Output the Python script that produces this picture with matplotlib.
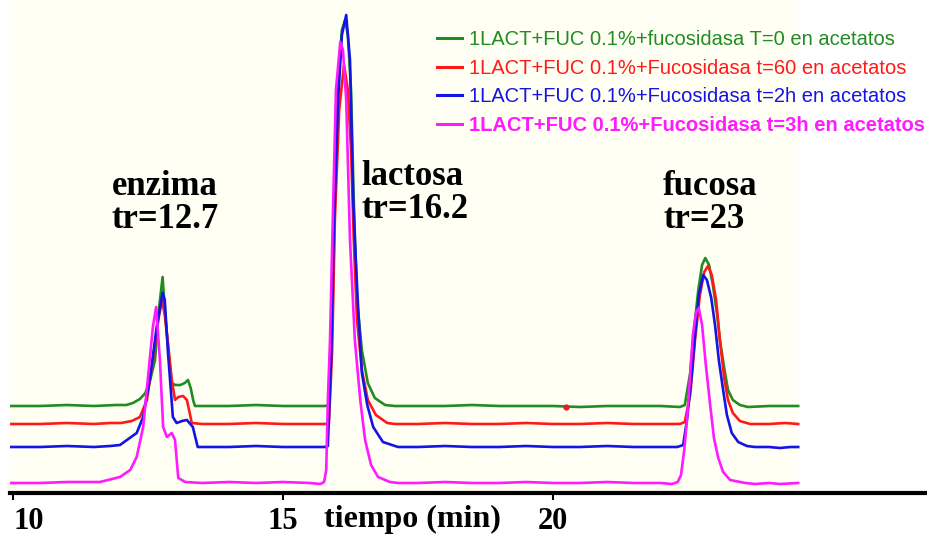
import matplotlib
matplotlib.use("Agg")
import matplotlib.pyplot as plt

# chromatogram traces: time (min), signal (arb. units)
green_t = [9.94, 10.5, 11.0, 11.5, 11.9, 12.1, 12.22, 12.35, 12.45, 12.54, 12.63, 12.70, 12.77, 12.81,
           12.88, 12.94, 13.0, 13.1, 13.18, 13.24, 13.29, 13.34, 13.37, 13.5, 14.0, 14.5, 15.0, 15.5,
           15.78, 15.85, 15.91, 15.96, 16.02, 16.09, 16.15, 16.20, 16.26, 16.31, 16.37, 16.46, 16.57,
           16.70, 16.89, 17.07, 17.5, 18.0, 18.5, 19.0, 19.5, 20.0, 20.5, 21.0, 21.5, 22.0, 22.35,
           22.44, 22.54, 22.61, 22.69, 22.76, 22.82, 22.89, 22.96, 23.04, 23.09, 23.17, 23.24, 23.33,
           23.46, 23.61, 24.0, 24.54]
green_s = [87, 87, 88, 87, 88, 88, 90, 94, 100, 113, 133, 183, 216, 183,
           140, 110, 108, 108, 110, 113, 105, 92, 87, 87, 87, 88, 87, 87,
           87, 88, 163, 293, 413, 463, 473, 458, 403, 293, 193, 143, 110,
           95, 88, 87, 87, 87, 88, 87, 87, 87, 86, 87, 87, 87, 86,
           88, 120, 163, 203, 228, 235, 228, 208, 178, 153, 125, 103, 93,
           88, 86, 87, 87]

red_t = [9.94, 10.5, 11.0, 11.5, 11.8, 12.0, 12.1, 12.2, 12.35, 12.48, 12.59, 12.69, 12.76, 12.81,
         12.87, 12.94, 13.0, 13.06, 13.15, 13.22, 13.28, 13.31, 13.5, 14.0, 14.5, 15.0, 15.5, 15.78,
         15.85, 15.91, 15.96, 16.04, 16.13, 16.20, 16.26, 16.31, 16.37, 16.46, 16.57, 16.72, 16.93,
         17.07, 17.5, 18.0, 18.5, 19.0, 19.5, 20.0, 20.5, 21.0, 21.5, 22.0, 22.35, 22.44, 22.54,
         22.63, 22.72, 22.80, 22.87, 22.94, 23.02, 23.09, 23.17, 23.24, 23.33, 23.46, 23.65, 24.0,
         24.3, 24.54]
red_s = [69, 69, 70, 69, 70, 70, 71, 72, 76, 93, 133, 173, 193, 178,
         150, 113, 93, 96, 97, 93, 78, 70, 69, 69, 70, 69, 69, 69,
         70, 143, 273, 383, 428, 403, 343, 253, 173, 123, 93, 78, 70,
         69, 69, 70, 69, 69, 70, 69, 69, 70, 69, 69, 69, 71, 98,
         153, 198, 221, 227, 218, 193, 153, 115, 93, 80, 72, 69, 69,
         70, 69]

blue_t = [9.94, 10.5, 11.0, 11.5, 11.8, 11.98, 12.29, 12.41, 12.54, 12.66, 12.77, 12.81, 12.87, 12.96,
          13.03, 13.13, 13.22, 13.33, 13.42, 13.6, 14.0, 14.5, 15.0, 15.5, 15.78, 15.83, 15.89, 15.94,
          16.02, 16.09, 16.17, 16.24, 16.30, 16.33, 16.39, 16.46, 16.56, 16.67, 16.85, 17.13, 17.5,
          18.0, 18.5, 19.0, 19.5, 20.0, 20.5, 21.0, 21.5, 22.0, 22.3, 22.41, 22.48, 22.56, 22.63,
          22.70, 22.78, 22.85, 22.93, 23.0, 23.07, 23.15, 23.22, 23.31, 23.43, 23.59, 23.74, 24.0,
          24.2, 24.4, 24.54]
blue_s = [46, 46, 47, 46, 47, 48, 60, 76, 116, 166, 200, 193, 140, 76,
          70, 72, 73, 66, 46, 46, 46, 47, 46, 46, 46, 47, 133, 263,
          393, 458, 478, 433, 293, 253, 186, 120, 88, 66, 51, 46, 46,
          47, 46, 46, 47, 46, 46, 47, 46, 46, 46, 48, 73, 113, 158,
          198, 218, 213, 195, 168, 133, 103, 78, 60, 51, 47, 46, 46,
          45, 46, 46]

magenta_t = [9.94, 10.5, 11.0, 11.5, 11.61, 11.98, 12.17, 12.29, 12.41, 12.50, 12.59, 12.65, 12.72,
             12.78, 12.85, 12.94, 13.0, 13.06, 13.19, 13.5, 14.0, 14.5, 15.0, 15.5, 15.69, 15.76,
             15.80, 15.83, 15.87, 15.93, 15.98, 16.06, 16.11, 16.17, 16.22, 16.24, 16.33, 16.43,
             16.52, 16.63, 16.76, 16.98, 17.13, 17.5, 18.0, 18.5, 19.0, 19.5, 20.0, 20.5, 21.0, 21.5,
             22.0, 22.20, 22.31, 22.37, 22.43, 22.48, 22.54, 22.59, 22.65, 22.70, 22.76, 22.83, 22.91,
             22.98, 23.06, 23.15, 23.28, 23.56, 23.74, 24.0, 24.2, 24.54]
magenta_s = [10, 10, 11, 11, 11, 16, 23, 36, 66, 116, 166, 186, 133,
             66, 56, 60, 53, 15, 11, 10, 11, 10, 11, 10, 9, 11,
             23, 93, 153, 293, 403, 451, 443, 393, 293, 253, 153, 93,
             53, 28, 16, 11, 10, 10, 11, 10, 10, 11, 10, 10, 11, 10,
             10, 9, 11, 18, 43, 73, 118, 158, 181, 185, 168, 128, 88,
             55, 35, 21, 13, 10, 9, 10, 9, 10]

labels = ["1LACT+FUC 0.1%+fucosidasa T=0 en acetatos",
          "1LACT+FUC 0.1%+Fucosidasa t=60 en acetatos",
          "1LACT+FUC 0.1%+Fucosidasa t=2h en acetatos",
          "1LACT+FUC 0.1%+Fucosidasa t=3h en acetatos"]
colors = ["#228B22", "#FF1A1A", "#1414E6", "#FF1AFF"]

# stray red point on the green baseline
blip_t = [20.24]
blip_s = [86]

fig = plt.figure(figsize=(9.28, 5.37), dpi=100)
ax = fig.add_axes([10 / 928, 44 / 537, 918 / 928, 493 / 537])
ax.set_xlim(9.944, 26.944)
ax.set_ylim(0, 493)

ax.axvspan(green_t[0], green_t[-1], color="#FFFFF3", zorder=0, lw=0)

traces = [(green_t, green_s), (red_t, red_s), (blue_t, blue_s), (magenta_t, magenta_s)]
for (t, s), c, lab in zip(traces, colors, labels):
    ax.plot(t, s, color=c, lw=1.9, label=lab, solid_joinstyle="round")
ax.plot(blip_t, blip_s, "o", color="#E02020", ms=3.5)

leg = ax.legend(loc="upper left", bbox_to_anchor=(437 / 928, 1 - 30 / 537),
                bbox_transform=fig.transFigure, frameon=False, borderpad=0, borderaxespad=0,
                handlelength=1.25, handletextpad=0.35, labelspacing=0.48,
                prop={"family": "Liberation Sans", "size": 14.5}, labelcolor="linecolor")
leg.get_texts()[3].set_fontweight("bold")
for h in leg.get_lines():
    h.set_linewidth(2.2)

serif = {"family": "Liberation Serif", "weight": "bold", "size": 25}
ax.text(12.81, 290, "enzima\ntr=12.7", ha="center", va="center", linespacing=1.0, fontdict=serif)
ax.text(16.46, 300, "lactosa\ntr=16.2", ha="left", va="center", linespacing=1.0, fontdict=serif)
ax.text(22.04, 290, "fucosa\ntr=23", ha="left", va="center", linespacing=1.0, fontdict=serif)

for side in ["left", "right", "top"]:
    ax.spines[side].set_visible(False)
ax.spines["bottom"].set_linewidth(3)
ax.set_yticks([])
ax.set_xticks([10, 15, 20])
ax.set_xticklabels(["10", "15", "20"], fontdict={"family": "Liberation Serif", "weight": "bold", "size": 22})
ax.tick_params(axis="x", direction="out", length=5, width=1.5, pad=5)
ax.get_xticklabels()[0].set_horizontalalignment("left")

fig.text(412 / 928, 1 - 519 / 537, "tiempo (min)", ha="center", va="center",
         family="Liberation Serif", weight="bold", size=23)

fig.savefig("out.png", dpi=100)
